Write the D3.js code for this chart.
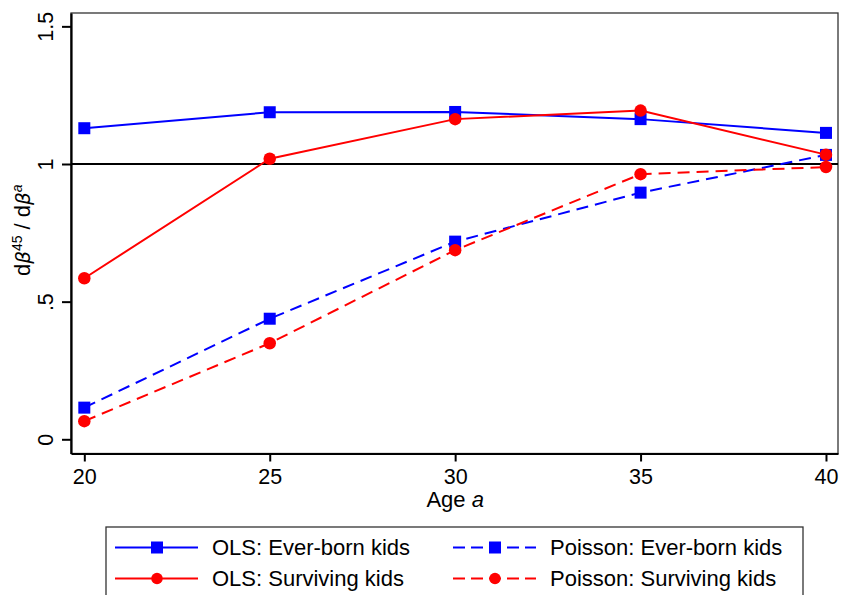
<!DOCTYPE html>
<html>
<head>
<meta charset="utf-8">
<script src="https://cdn.jsdelivr.net/npm/d3@7"></script>
<style>
  body { margin: 0; background: #fff; }
  svg text { font-family: "Liberation Sans", Arial, Helvetica, sans-serif; fill: #000; }
</style>
</head>
<body>
<div id="chart"></div>
<script>
// data
const ages = [20, 25, 30, 35, 40];
const olsEverBorn      = [1.130, 1.188, 1.189, 1.163, 1.113];
const olsSurviving     = [0.585, 1.019, 1.163, 1.194, 1.034];
const poissonEverBorn  = [0.115, 0.438, 0.718, 0.896, 1.033];
const poissonSurviving = [0.066, 0.349, 0.687, 0.963, 0.989];

const xTicks = [20, 25, 30, 35, 40];
const yTicks = [0, 0.5, 1, 1.5];
const yTickLabels = ["0", ".5", "1", "1.5"];

const seriesNames = ["OLS: Ever-born kids", "OLS: Surviving kids", "Poisson: Ever-born kids", "Poisson: Surviving kids"];

// series description (drawing order: blue first, then red on top)
let series = [
  {name: seriesNames[0], values: olsEverBorn,      color: "#0000ff", dash: null,   shape: "square"},
  {name: seriesNames[2], values: poissonEverBorn,  color: "#0000ff", dash: "12,7", shape: "square"},
  {name: seriesNames[1], values: olsSurviving,     color: "#ff0000", dash: null,   shape: "circle"},
  {name: seriesNames[3], values: poissonSurviving, color: "#ff0000", dash: "12,7", shape: "circle"}
];

const W = 841, H = 595;
let plot = {left: 71, right: 838, top: 13, bottom: 453.5};

let svg = d3.select("#chart").append("svg")
    .attr("width", W)
    .attr("height", H);

// scales (a bit of padding around 20..40 and 0..1.5 like the stata plot region)
let x = d3.scaleLinear()
    .domain([19.641, 40.324])
    .range([plot.left, plot.right]);

let y = d3.scaleLinear()
    .domain([-0.0516, 1.5485])
    .range([plot.bottom, plot.top]);

// plot frame
svg.append("rect")
    .attr("x", plot.left)
    .attr("y", plot.top)
    .attr("width", plot.right - plot.left)
    .attr("height", plot.bottom - plot.top)
    .attr("fill", "none")
    .attr("stroke", "#333")
    .attr("stroke-width", 1.3);

// reference line at 1
svg.append("line")
    .attr("x1", plot.left).attr("x2", plot.right)
    .attr("y1", y(1)).attr("y2", y(1))
    .attr("stroke", "#000")
    .attr("stroke-width", 2);

// X AXIS //
let xAxis = svg.append("g")
    .attr("transform", "translate(0," + plot.bottom + ")")
    .call(d3.axisBottom(x)
        .tickValues(xTicks)
        .tickFormat(d3.format("d"))
        .tickSize(8)
        .tickSizeOuter(0)
        .tickPadding(7));
xAxis.select(".domain").attr("stroke", "#000").attr("stroke-width", 2.2);
xAxis.selectAll(".tick line").attr("stroke", "#000").attr("stroke-width", 2);
xAxis.selectAll(".tick text")
    .style("font-size", "21.5px")
    .attr("fill", "#000");

// x label
let xLabel = svg.append("text")
    .attr("x", (x(20) + x(40)) / 2)
    .attr("y", 507)
    .attr("text-anchor", "middle")
    .style("font-size", "22px");
xLabel.append("tspan").text("Age ");
xLabel.append("tspan").style("font-style", "italic").text("a");

// Y AXIS //
let yAxis = svg.append("g")
    .attr("transform", "translate(" + plot.left + ",0)")
    .call(d3.axisLeft(y)
        .tickValues(yTicks)
        .tickFormat((d, i) => yTickLabels[i])
        .tickSize(9)
        .tickSizeOuter(0));
yAxis.select(".domain").attr("stroke", "#000").attr("stroke-width", 2.2);
yAxis.selectAll(".tick line").attr("stroke", "#000").attr("stroke-width", 2);
yAxis.selectAll(".tick text")
    .attr("x", 0)
    .attr("y", 0)
    .attr("dy", null)
    .attr("text-anchor", "middle")
    .attr("transform", "translate(-18,0) rotate(-90)")
    .style("font-size", "21.5px")
    .attr("fill", "#000");

// y label:  d beta^45 / d beta^a
let yLabel = svg.append("text")
    .attr("transform", "translate(29.5," + ((plot.top + plot.bottom) / 2 - 3) + ") rotate(-90)")
    .attr("text-anchor", "middle")
    .style("font-size", "22px");
yLabel.append("tspan").text("d");
yLabel.append("tspan").style("font-style", "italic").style("font-family", "'DejaVu Sans', sans-serif").style("font-size", "20px").text("β");
yLabel.append("tspan").attr("dy", -8).style("font-size", "14px").text("45");
yLabel.append("tspan").attr("dy", 8).text(" / d");
yLabel.append("tspan").style("font-style", "italic").style("font-family", "'DejaVu Sans', sans-serif").style("font-size", "20px").text("β");
yLabel.append("tspan").attr("dy", -8).style("font-size", "14px").style("font-style", "italic").text("a");

// DRAW LINES AND MARKERS //
let line = d3.line()
    .x((d, i) => x(ages[i]))
    .y(d => y(d));

function drawMarker(g, shape, color, cx, cy, size) {
    if (shape === "square") {
        g.append("rect")
            .attr("x", cx - size / 2)
            .attr("y", cy - size / 2)
            .attr("width", size)
            .attr("height", size)
            .attr("fill", color);
    } else {
        g.append("circle")
            .attr("cx", cx)
            .attr("cy", cy)
            .attr("r", size / 2)
            .attr("fill", color);
    }
}

series.forEach(function(s) {
    let g = svg.append("g");
    g.append("path")
        .datum(s.values)
        .attr("d", line)
        .attr("fill", "none")
        .attr("stroke", s.color)
        .attr("stroke-width", 2)
        .attr("stroke-dasharray", s.dash);
    s.values.forEach(function(v, i) {
        drawMarker(g, s.shape, s.color, x(ages[i]), y(v), s.shape === "square" ? 12 : 12.5);
    });
});

// LEGEND //
let legend = svg.append("g");
legend.append("rect")
    .attr("x", 106)
    .attr("y", 527)
    .attr("width", 697)
    .attr("height", 90)
    .attr("fill", "#fff")
    .attr("stroke", "#333")
    .attr("stroke-width", 1.3);

// column 1 OLS (solid), column 2 Poisson (dashed); row 1 ever-born, row 2 surviving
let colX = [115, 453];
let rowY = [547.5, 578.5];

series.forEach(function(s) {
    let col = (s.dash ? 1 : 0);
    let row = (s.shape === "square" ? 0 : 1);
    let x0 = colX[col];
    let yy = rowY[row];
    legend.append("line")
        .attr("x1", x0).attr("x2", x0 + 83)
        .attr("y1", yy).attr("y2", yy)
        .attr("stroke", s.color)
        .attr("stroke-width", 2)
        .attr("stroke-dasharray", s.dash ? "12,6" : null);
    drawMarker(legend, s.shape, s.color, x0 + 42, yy, s.shape === "square" ? 12 : 11.5);
    legend.append("text")
        .attr("x", x0 + 97)
        .attr("y", yy + 7.5)
        .style("font-size", "22px")
        .text(s.name);
});
</script>
</body>
</html>
